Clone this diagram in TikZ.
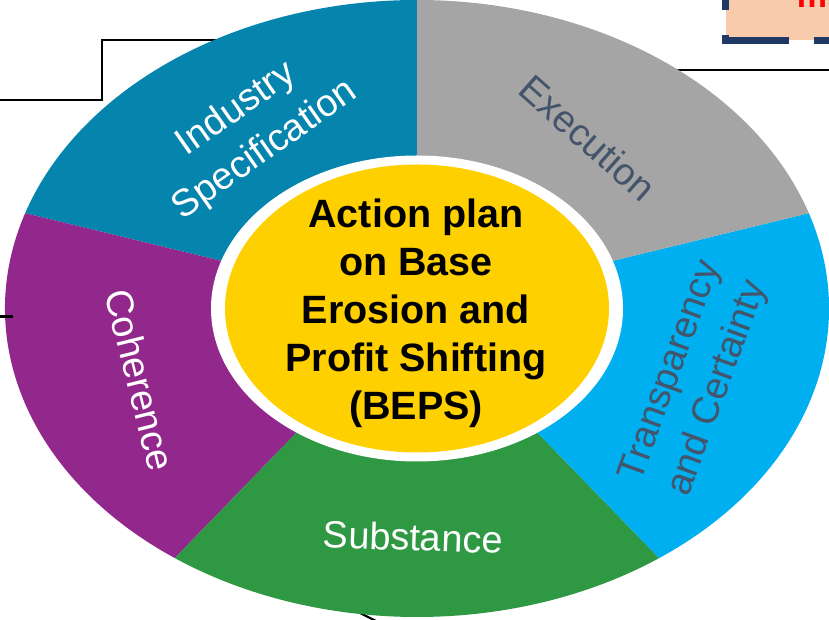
\documentclass[tikz,border=0pt]{standalone}
\usepackage{fontspec}
\setmainfont{Liberation Sans}
\definecolor{cblue}{HTML}{0584AE}
\definecolor{cpurple}{HTML}{92278C}
\definecolor{cgreen}{HTML}{2E9843}
\definecolor{clblue}{HTML}{00AFEF}
\definecolor{cgray}{HTML}{A5A5A5}
\definecolor{cyellow}{HTML}{FFD000}
\definecolor{cslate}{HTML}{44546A}
\definecolor{cpink}{HTML}{F8CBAD}
\definecolor{cnavy}{HTML}{1F3864}
\tikzset{
  seglabel/.style={align=center, inner sep=0pt, font=\fontsize{38}{50}\selectfont},
  centerlabel/.style={align=center, inner sep=0pt, font=\fontsize{39.5}{48}\selectfont\bfseries},
  wire/.style={draw=black, line width=2.2pt}
}
\begin{document}
\begin{tikzpicture}[x=1pt,y=1pt]
\useasboundingbox (0,0) rectangle (829,620);
\clip (0,0) rectangle (829,620);
% connectors behind the wheel
\coordinate (w1) at (0,520);
\coordinate (w2) at (102,520);
\coordinate (w3) at (102,580);
\coordinate (w4) at (300,580);
\draw[wire] (w1) -- (w2) -- (w3) -- (w4);
\coordinate (r1) at (600,550);
\coordinate (r2) at (840,550);
\draw[wire] (r1) -- (r2);
\coordinate (b1) at (340,17);
\coordinate (b2) at (380,-3);
\draw[wire] (b1) -- (b2);
% top-right box
\fill[cpink] (725.5,579.5) rectangle (900,700);
\coordinate (k1) at (725.5,679);
\coordinate (k2) at (725.5,579.5);
\coordinate (k3) at (900,579.5);
\draw[cnavy, line width=7pt, dash pattern=on 69pt off 25pt] (k1) -- (k2) -- (k3);
\node[anchor=base, text=red, inner sep=0pt, font=\fontsize{34}{40}\selectfont\bfseries] (mtxt) at (812,612) {m};
% wheel
\coordinate (c) at (417,311.5);
\foreach \a/\b/\col in {90/162/cblue, 162/234/cpurple, 234/306/cgreen, -54/18/clblue, 18/90/cgray}
  \fill[\col] (c) -- ++(\a:412 and 308.5) arc[start angle=\a, end angle=\b, x radius=412, y radius=308.5] -- cycle;
\fill[white] (c) ellipse[x radius=206, y radius=153];
\fill[cyellow] (c) ellipse[x radius=192, y radius=144];
\node[centerlabel] (center) at (416,306.4) {Action plan\\on Base\\Erosion and\\Profit Shifting\\(BEPS)};
% segment labels
\node[seglabel, text=white, rotate=35] (ind) at (251,490) {Industry\\Specification};
\node[seglabel, text=cslate, rotate=-41.5] (exe) at (588,482) {Execution};
\node[seglabel, text=cslate, rotate=70] (tra) at (695,240) {Transparency\\and Certainty};
\node[seglabel, text=white, rotate=-76] (coh) at (140,240) {Coherence};
\node[seglabel, text=white, rotate=-2] (sub) at (413,83) {Substance};
% left tick
\coordinate (t1) at (0,303.3);
\coordinate (t2) at (13,303.3);
\draw[black, line width=3pt] (t1) -- (t2);
\end{tikzpicture}
\end{document}
